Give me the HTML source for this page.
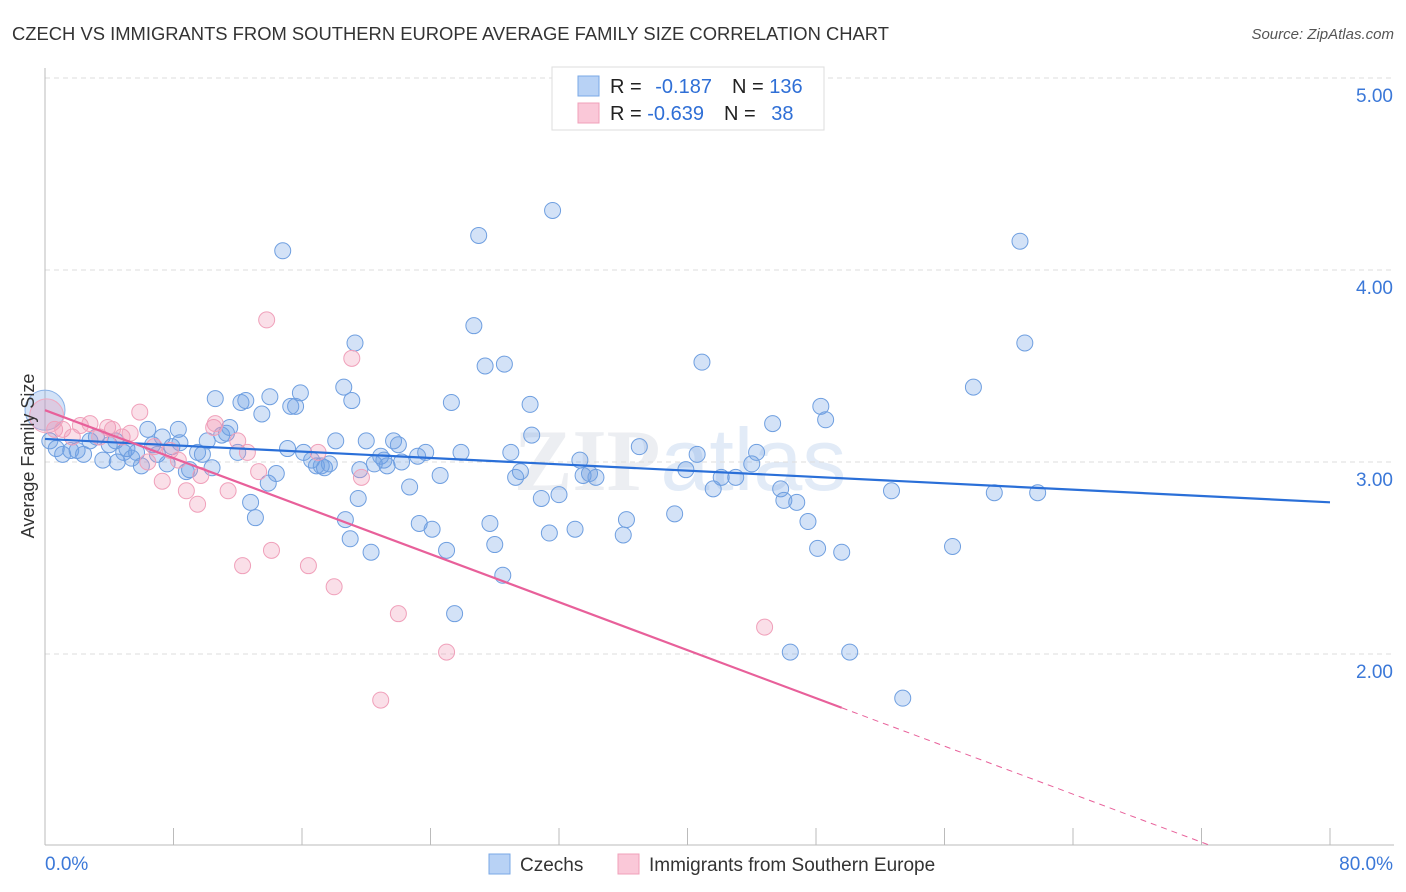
<!DOCTYPE html>
<html><head><meta charset="utf-8"><style>
body{margin:0;background:#fff;font-family:"Liberation Sans",sans-serif;}
svg{display:block}
</style></head><body>
<svg id="c" width="1406" height="892">
<text x="12" y="40" font-size="18" fill="#333" textLength="877" lengthAdjust="spacingAndGlyphs">CZECH VS IMMIGRANTS FROM SOUTHERN EUROPE AVERAGE FAMILY SIZE CORRELATION CHART</text>
<text x="1394" y="39" font-size="15" fill="#555" font-style="italic" text-anchor="end">Source: ZipAtlas.com</text>
<text x="680" y="490" font-size="88" fill="#eceef2" font-family="Liberation Serif" font-weight="bold" text-anchor="middle">ZIP<tspan fill="#e2ebf7" font-family="Liberation Sans" font-weight="normal">atlas</tspan></text>
<g id="grid"></g>
<g id="axes"></g>
<g id="pts"></g>
<g id="lines"></g>
<text transform="translate(34,456) rotate(-90)" font-size="18" fill="#333" text-anchor="middle">Average Family Size</text>
<g>
<rect x="552" y="67" width="272" height="63" fill="#fff" stroke="#ddd"/>
<rect x="578" y="76" width="21" height="20" fill="#b8d2f5" stroke="#7aa8e6"/>
<rect x="578" y="103" width="21" height="20" fill="#fac8d8" stroke="#f0a0ba"/>
<text x="610" y="93" font-size="20" fill="#222">R = <tspan fill="#2f6fd6" dx="8">-0.187</tspan><tspan dx="20" fill="#222">N = </tspan><tspan fill="#2f6fd6">136</tspan></text>
<text x="610" y="120" font-size="20" fill="#222">R = <tspan fill="#2f6fd6">-0.639</tspan><tspan dx="20" fill="#222">N = </tspan><tspan fill="#2f6fd6" dx="10">38</tspan></text>
</g>
<g>
<rect x="489" y="854" width="21" height="20" fill="#b8d2f5" stroke="#7aa8e6"/>
<text x="520" y="871" font-size="19" fill="#333">Czechs</text>
<rect x="618" y="854" width="21" height="20" fill="#fac8d8" stroke="#f0a0ba"/>
<text x="649" y="871" font-size="19" fill="#333">Immigrants from Southern Europe</text>
</g>
</svg>
<script>
const blueX=[0.3,0.7,1.1,1.6,2.0,2.4,2.8,3.2,3.6,4.0,4.4,4.5,4.9,5.1,5.4,5.7,6.0,6.4,6.7,7.0,7.3,7.6,7.9,8.3,8.4,8.8,9.0,9.5,9.8,10.1,10.4,10.6,11.0,11.3,11.5,12.0,12.2,12.5,12.8,13.1,13.5,13.9,14.0,14.4,14.8,15.1,15.3,15.6,15.9,16.1,16.6,16.9,17.2,17.4,17.7,18.1,18.6,18.7,19.0,19.1,19.3,19.5,19.6,20.0,20.3,20.5,20.9,21.1,21.3,21.7,22.0,22.2,22.7,23.2,23.3,23.7,24.1,24.6,25.0,25.3,25.5,25.9,26.7,27.0,27.4,27.7,28.0,28.5,28.6,29.0,29.3,29.6,30.2,30.3,30.9,31.4,31.6,32.0,33.0,33.3,33.5,33.9,34.3,36.0,36.2,37.0,39.2,39.9,40.6,40.9,41.6,42.1,43.0,44.0,44.3,45.3,45.8,46.0,46.4,46.8,47.5,48.1,48.3,48.6,49.6,50.1,52.7,53.4,56.5,57.8,59.1,60.7,61.0,61.8];
const blueY=[3.11,3.07,3.04,3.06,3.06,3.04,3.11,3.13,3.01,3.09,3.11,3.00,3.05,3.07,3.02,3.05,2.98,3.17,3.09,3.04,3.13,2.99,3.08,3.17,3.10,2.95,2.96,3.05,3.04,3.11,2.97,3.33,3.14,3.15,3.18,3.05,3.31,3.32,2.79,2.71,3.25,2.89,3.34,2.94,4.10,3.07,3.29,3.29,3.36,3.05,3.01,2.98,2.98,2.97,2.99,3.11,3.39,2.70,2.60,3.32,3.62,2.81,2.96,3.11,2.53,2.99,3.03,3.01,2.98,3.11,3.09,3.00,2.87,3.03,2.68,3.05,2.65,2.93,2.54,3.31,2.21,3.05,3.71,4.18,3.50,2.68,2.57,2.41,3.51,3.05,2.92,2.95,3.30,3.14,2.81,2.63,4.31,2.83,2.65,3.01,2.93,2.94,2.92,2.62,2.70,3.08,2.73,2.96,3.04,3.52,2.86,2.92,2.92,2.99,3.05,3.20,2.86,2.80,2.01,2.79,2.69,2.55,3.29,3.22,2.53,2.01,2.85,1.77,2.56,3.39,2.84,4.15,3.62,2.84];
const pinkX=[0.6,1.1,1.7,2.2,2.8,3.4,3.9,4.2,4.8,5.3,5.9,6.4,6.8,7.3,7.8,8.3,8.8,9.5,9.7,10.5,10.6,11.4,12.0,12.3,12.6,13.3,13.8,14.1,16.4,17.0,18.0,19.1,19.7,20.9,22.0,25.0,44.8];
const pinkY=[3.17,3.17,3.13,3.19,3.20,3.13,3.18,3.17,3.13,3.15,3.26,3.00,3.08,2.90,3.06,3.01,2.85,2.78,2.93,3.18,3.20,2.85,3.11,2.46,3.05,2.95,3.74,2.54,2.46,3.05,2.35,3.54,2.92,1.76,2.21,2.01,2.14];
const yTicks=[2,3,4,5];
const xTickLabels=["0.0%","80.0%"];
const blueFit=[3.12,2.79];
const pinkFit=[3.27,1.72,49.6];
const NS="http://www.w3.org/2000/svg";
const sx=v=>45+v*1285/80;
const sy=v=>462-(v-3)*192;
function mk(tag,attrs,parent){const e=document.createElementNS(NS,tag);for(const k in attrs)e.setAttribute(k,attrs[k]);document.getElementById(parent).appendChild(e);return e;}
yTicks.forEach(t=>{
 const g=mk('line',{x1:45,x2:1394,y1:sy(t),y2:sy(t),stroke:'#ddd','stroke-dasharray':'5,4'},'grid');
 
 
 const l=mk('text',{x:1393,y:sy(t)+24,'font-size':19,fill:'#3b78d8','text-anchor':'end'},'grid');
 l.textContent=t.toFixed(2);
 
 
});
const ax=mk('line',{x1:45,x2:45,y1:68,y2:845,stroke:'#bbb'},'axes');


const bx=mk('line',{x1:45,x2:1394,y1:845,y2:845,stroke:'#bbb'},'axes');


for(let i=0;i<=10;i++){const t=mk('line',{x1:sx(i*8),x2:sx(i*8),y1:828,y2:845,stroke:'#bbb'},'axes');
 
 }
[[0,45,'start'],[80,1393,'end']].forEach((d,i)=>{const t=mk('text',{x:d[1],y:870,'font-size':19,fill:'#3b78d8','text-anchor':d[2]},'axes');t.textContent=xTickLabels[i];
 
 });
const big1=mk('circle',{cx:sx(0),cy:sy(3.27),r:20,fill:'rgba(110,160,230,0.3)',stroke:'#8ab2e8'},'pts');


const big2=mk('circle',{cx:sx(0.1),cy:sy(3.24),r:17,fill:'rgba(240,150,180,0.3)',stroke:'#f0a8c0'},'pts');


blueX.forEach((x,i)=>{const c=mk('circle',{cx:sx(x),cy:sy(blueY[i]),r:8,fill:'rgba(110,160,230,0.3)',stroke:'#6f9fe0','stroke-width':1},'pts');
 
 });
pinkX.forEach((x,i)=>{const c=mk('circle',{cx:sx(x),cy:sy(pinkY[i]),r:8,fill:'rgba(240,150,180,0.3)',stroke:'#f0a0ba','stroke-width':1},'pts');
 
 });
const bl=mk('line',{x1:sx(0),y1:sy(blueFit[0]),x2:sx(80),y2:sy(blueFit[1]),stroke:'#2a6fd8','stroke-width':2.2},'lines');


const slope=(pinkFit[1]-pinkFit[0])/pinkFit[2];
const pl=mk('line',{x1:sx(0),y1:sy(pinkFit[0]),x2:sx(pinkFit[2]),y2:sy(pinkFit[1]),stroke:'#e8609a','stroke-width':2.2},'lines');


const xEnd=(1-pinkFit[0])/slope;
const pd=mk('line',{x1:sx(pinkFit[2]),y1:sy(pinkFit[1]),x2:sx(xEnd),y2:sy(1),stroke:'#e8609a','stroke-width':1,'stroke-dasharray':'6,5'},'lines');


</script>
</body></html>
